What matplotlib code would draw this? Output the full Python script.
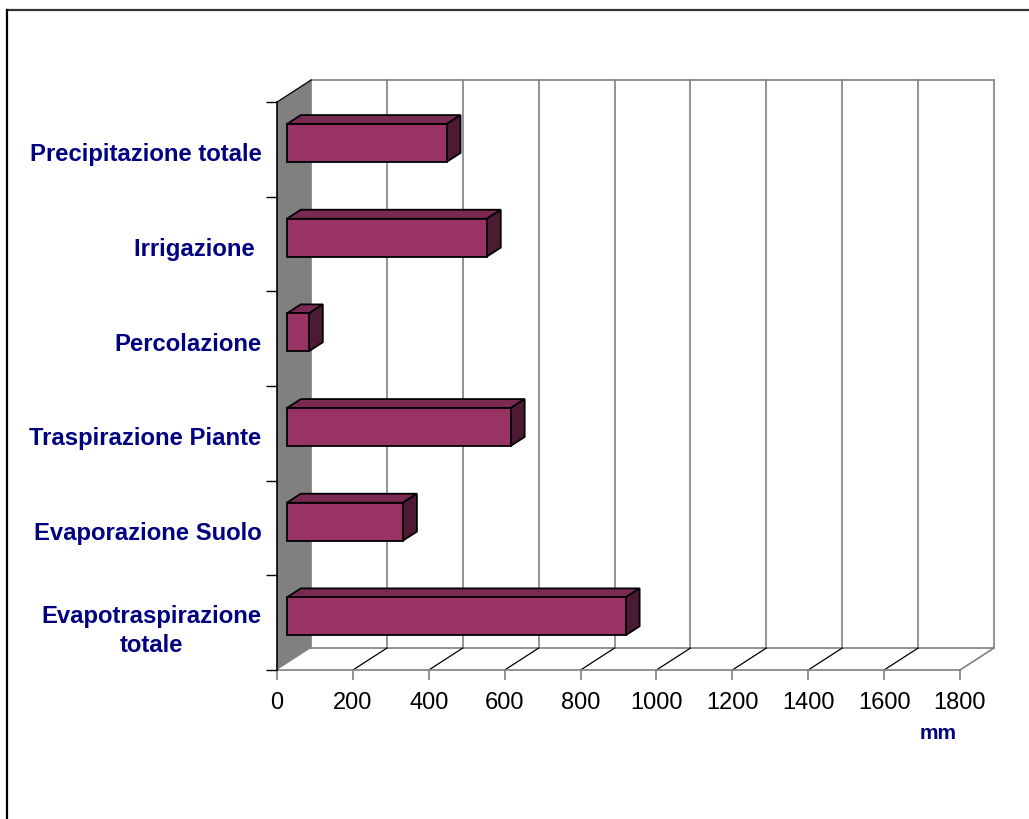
import matplotlib.pyplot as plt
from matplotlib.patches import Polygon

plt.rcParams['font.family'] = ['Liberation Sans', 'DejaVu Sans']

# categories bottom -> top
categorie = ['Evapotraspirazione\ntotale', 'Evaporazione Suolo', 'Traspirazione Piante',
             'Percolazione', 'Irrigazione ', 'Precipitazione totale']
valori = [893, 306, 590, 58, 527, 421]
x_ticks = [0, 200, 400, 600, 800, 1000, 1200, 1400, 1600, 1800]

XMAX = 1800
NCAT = len(categorie)
# depth offset of the 3d box (in data units)
DX = 89.6
DY = 0.232
# bar placement in depth and height
F0 = 0.29
FD = 0.41
BH = 0.40

fig = plt.figure(figsize=(10.29, 8.19), dpi=100)
fig.patch.set_facecolor('white')

# outer frame (only top and left visible)
fig.add_artist(plt.Line2D([0.0071, 1.0], [0.988, 0.988], color='#333333', lw=1.6))
fig.add_artist(plt.Line2D([0.0071, 0.0071], [0.0, 0.988], color='black', lw=1.6))

ax = fig.add_axes([0.2692, 0.1819, 0.6637, 0.6935])
ax.set_xlim(0, XMAX)
ax.set_ylim(0, NCAT)
ax.patch.set_alpha(0)
for s in ax.spines.values():
    s.set_visible(False)

grey = '#808080'

# left wall
ax.add_patch(Polygon([(0, 0), (DX, DY), (DX, NCAT + DY), (0, NCAT)], closed=True,
                     facecolor=grey, edgecolor='none', clip_on=False, zorder=1))
# back wall gridlines
for v in x_ticks:
    ax.plot([v + DX, v + DX], [DY, NCAT + DY], color=grey, lw=1.2, clip_on=False, zorder=1)
ax.plot([DX, XMAX + DX], [NCAT + DY, NCAT + DY], color=grey, lw=1.2, clip_on=False, zorder=1)
ax.plot([DX, XMAX + DX], [DY, DY], color=grey, lw=1.2, clip_on=False, zorder=1)
# floor lines
for v in x_ticks[1:-1]:
    ax.plot([v, v + DX], [0, DY], color='black', lw=0.9, clip_on=False, zorder=1)
ax.plot([XMAX, XMAX + DX], [0, DY], color=grey, lw=1.2, clip_on=False, zorder=1)
ax.plot([0, XMAX], [0, 0], color=grey, lw=1.2, clip_on=False, zorder=1)
# left axis line
ax.plot([0, 0], [0, NCAT], color='black', lw=1.2, clip_on=False, zorder=2)
ax.plot([0, DX], [NCAT, NCAT + DY], color='black', lw=0.9, clip_on=False, zorder=2)

# 3d bars
front_c = '#993366'
top_c = '#7a2952'
side_c = '#4d1a33'
for i, v in enumerate(valori):
    x0 = F0 * DX
    y0 = i + 0.5 - BH / 2 + F0 * DY
    ddx = FD * DX
    ddy = FD * DY
    x1 = v + x0
    ax.add_patch(Polygon([(x0, y0 + BH), (x0 + ddx, y0 + BH + ddy), (x1 + ddx, y0 + BH + ddy), (x1, y0 + BH)],
                         closed=True, facecolor=top_c, edgecolor='black', lw=1.3, zorder=3, clip_on=False))
    ax.add_patch(Polygon([(x1, y0), (x1 + ddx, y0 + ddy), (x1 + ddx, y0 + BH + ddy), (x1, y0 + BH)],
                         closed=True, facecolor=side_c, edgecolor='black', lw=1.3, zorder=3, clip_on=False))
    ax.add_patch(Polygon([(x0, y0), (x1, y0), (x1, y0 + BH), (x0, y0 + BH)],
                         closed=True, facecolor=front_c, edgecolor='black', lw=1.3, zorder=4, clip_on=False))

# x axis
ax.set_xticks(x_ticks)
ax.set_xticklabels([str(t) for t in x_ticks], fontsize=17)
ax.tick_params(axis='x', length=7, width=1.2, color=grey, pad=9)

# y axis (labels sit slightly below the category centre)
ax.set_yticks([i + 0.5 - 0.03 for i in range(NCAT)])
ax.set_yticklabels(categorie, fontsize=17.2, fontweight='bold', color='#000080')
ax.set_yticks(range(NCAT + 1), minor=True)
ax.tick_params(axis='y', which='major', length=0, pad=11)
ax.tick_params(axis='y', which='minor', length=8, width=1, color='black')
for lab in ax.get_yticklabels():
    lab.set_multialignment('center')
    lab.set_linespacing(1.33)

fig.text(0.9116, 0.105, 'mm', fontsize=15, fontweight='bold', color='#000080', ha='center', va='center')

plt.savefig('out.png', dpi=100)
